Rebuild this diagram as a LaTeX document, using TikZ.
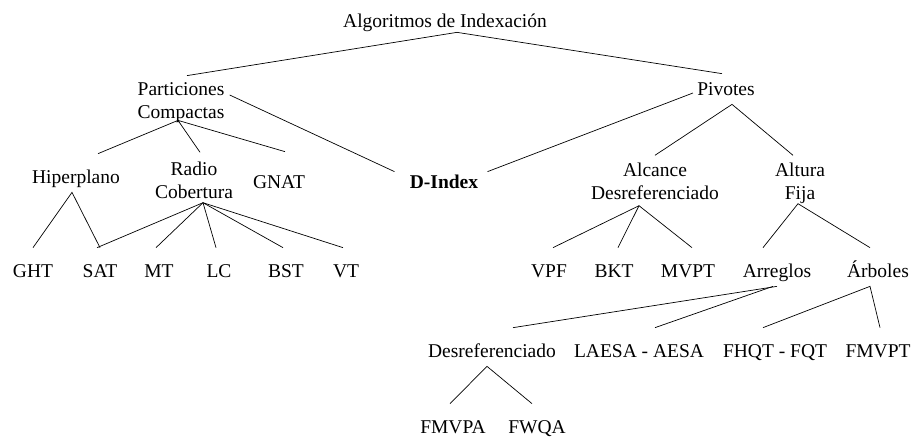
\documentclass[tikz,border=0pt]{standalone}
\usepackage{fontspec}
\setmainfont{Liberation Serif}

\begin{document}
\begin{tikzpicture}[
  x=1pt,y=-1pt,line width=.7pt,
  lbl/.style={inner sep=0pt,anchor=base,font=\fontsize{19.5}{23}\selectfont,text depth=9pt},
  mid/.style={lbl,text height=21pt},
  leaf/.style={lbl,text height=29pt},
  pair/.style={inner sep=0pt,align=center,font=\fontsize{19.5}{23}\selectfont}
]
  \useasboundingbox (0,0) rectangle (912,436);

  % raiz y primer nivel
  \node[lbl,text depth=4pt] (root) at (445,28) {Algoritmos de Indexación};
  \node[pair] (part) at (181,103) {Particiones\\Compactas};
  \node[mid] (piv) at (726,95) {Pivotes};

  % segundo nivel
  \node[leaf] (hip) at (76,183) {Hiperplano};
  \node[pair] (radio) at (194,180) {Radio\\Cobertura};
  \node[leaf,text height=36pt] (gnat) at (279,188) {GNAT};
  \node[lbl,text height=16pt,font=\fontsize{19.5}{23}\selectfont\bfseries] (dindex) at (444,188) {D-Index};
  \node[pair] (alc) at (655,181) {Alcance\\Desreferenciado};
  \node[pair] (alt) at (800,183) {Altura\\Fija};

  % hojas
  \node[leaf] (ght) at (33,277) {GHT};
  \node[leaf] (sat) at (100,277) {SAT};
  \node[leaf] (mt) at (159,277) {MT};
  \node[leaf] (lc) at (219,277) {LC};
  \node[leaf] (bst) at (286,277) {BST};
  \node[leaf] (vt) at (346,277) {VT};
  \node[leaf] (vpf) at (549,277) {VPF};
  \node[leaf] (bkt) at (614,277) {BKT};
  \node[leaf] (mvpt) at (688,277) {MVPT};
  \node[leaf] (arr) at (777,277) {Arreglos};
  \node[leaf] (arb) at (878,277) {Árboles};
  \node[leaf] (des) at (492,357) {Desreferenciado};
  \node[leaf] (laesa) at (639,357) {LAESA - AESA};
  \node[leaf] (fhqt) at (775,357) {FHQT - FQT};
  \node[leaf] (fmvpt) at (878,357) {FMVPT};
  \node[leaf] (fmvpa) at (453,433) {FMVPA};
  \node[leaf] (fwqa) at (537,433) {FWQA};

  % conexiones
  \draw ([xshift=6pt,yshift=7pt]part.north) -- ([xshift=12pt]root.south) -- ([xshift=-4pt]piv.north);
  \draw ([xshift=5pt,yshift=8pt]part.east) -- ([xshift=-15pt]dindex.north west);
  \draw ([xshift=-4pt,yshift=-4pt]piv.west) -- ([xshift=9pt]dindex.north east);
  \draw ([xshift=22pt]hip.north) -- ([xshift=-3pt,yshift=3pt]part.south) -- ([xshift=6pt,yshift=9pt]radio.north);
  \draw ([xshift=-3pt,yshift=3pt]part.south) -- ([xshift=6pt]gnat.north);
  \draw ([yshift=7pt]alc.north) -- ([xshift=6pt]piv.south) -- ([xshift=-7pt,yshift=7pt]alt.north);
  \draw (ght.north) -- ([xshift=-4pt]hip.south) -- (sat.north);
  \foreach \leaf in {sat,mt,lc,bst,vt}
    \draw ([xshift=9pt,yshift=-4pt]radio.south) -- ([xshift=-3pt]\leaf.north);
  \foreach \leaf in {vpf,bkt,mvpt}
    \draw ([xshift=-16pt,yshift=-6pt]alc.south) -- ([xshift=4pt]\leaf.north);
  \draw ([xshift=-14pt]arr.north) -- ([xshift=-2pt]alt.south) -- ([xshift=-8pt]arb.north);
  \draw (arr.south) -- ([xshift=21pt]des.north);
  \draw ([xshift=-4pt]arr.south) -- ([xshift=16pt]laesa.north);
  \draw ([xshift=-12pt]fhqt.north) -- ([xshift=-8pt]arb.south) -- ([xshift=2pt]fmvpt.north);
  \draw ([xshift=-3pt]fmvpa.north) -- ([xshift=-5pt]des.south) -- ([xshift=-5pt]fwqa.north);
\end{tikzpicture}
\end{document}
